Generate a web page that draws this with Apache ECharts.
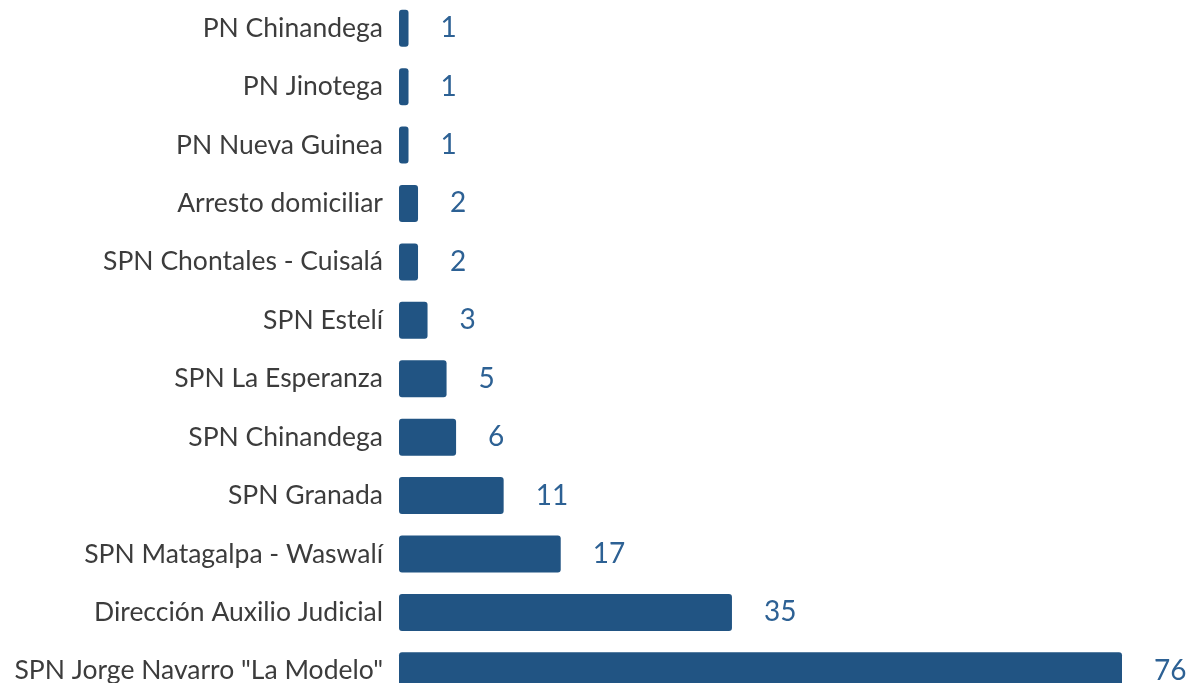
<!DOCTYPE html>
<html><head><meta charset="utf-8">
<script src="https://cdn.jsdelivr.net/npm/echarts@6/dist/echarts.min.js"></script>
<style>html,body{margin:0;padding:0;background:#fff;}#c{width:1200px;height:683px;}</style>
</head><body><div id="c"></div>
<script>
const categories = ["PN Chinandega","PN Jinotega","PN Nueva Guinea","Arresto domiciliar","SPN Chontales - Cuisalá","SPN Estelí","SPN La Esperanza","SPN Chinandega","SPN Granada","SPN Matagalpa - Waswalí","Dirección Auxilio Judicial","SPN Jorge Navarro \"La Modelo\""];
const values = [1,1,1,2,2,3,5,6,11,17,35,76];
const chart = echarts.init(document.getElementById('c'));
chart.setOption({
  animation:false,
  grid:{left:399, right:78, top:-1, bottom:-17, containLabel:false, outerBoundsMode:'none'},
  xAxis:{type:'value', min:0, max:76, show:false},
  yAxis:{type:'category', data:categories, inverse:true,
    axisLine:{show:false}, axisTick:{show:false},
    axisLabel:{margin:16, color:'#3c3c3c', fontSize:26.5, fontFamily:'Lato'}},
  series:[{type:'bar', data:values, barWidth:37,
    itemStyle:{color:'#215483', borderRadius:3},
    label:{show:true, position:'right', distance:32, color:'#2d6194', fontSize:28, fontFamily:'Lato'}}]
});
</script></body></html>
